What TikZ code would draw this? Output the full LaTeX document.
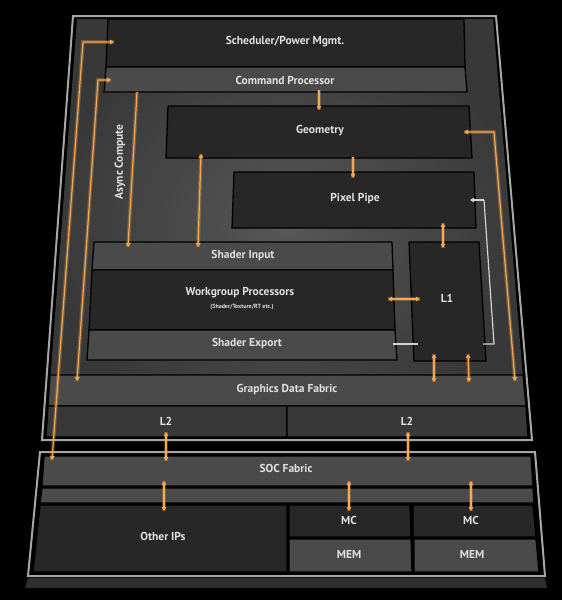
\documentclass[tikz,border=0pt]{standalone}
\usepackage{fontspec}
\setmainfont{PT Sans}
\usetikzlibrary{arrows.meta}
\definecolor{rim}{HTML}{A6A6A6}
\definecolor{bodyhi}{HTML}{575757}
\definecolor{bodylo}{HTML}{383838}
\definecolor{dark}{HTML}{272727}
\definecolor{mid}{HTML}{4A4A4A}
\definecolor{shadow}{HTML}{2E2E2E}
\definecolor{amber}{HTML}{F8A850}
\definecolor{wirew}{HTML}{D2D2D2}
\definecolor{label}{HTML}{E0E0E0}
\tikzset{
	ah/.tip={Triangle[length=4pt,width=4.5pt]},
	blk/.style={draw=black, line width=1.3pt, line join=round},
	lbl/.style={text=label, font=\bfseries\fontsize{11.5}{13}\selectfont},
	glow/.style={preaction={draw, amber, line width=3.8pt, opacity=0.28, arrows=-}},
	wire/.style={amber, line width=1.2pt, line join=round, glow, -ah},
	wires/.style={amber, line width=1.2pt, line join=round, glow, ah-ah},
	pale/.style={wirew, line width=1.2pt, line join=round}
}

\begin{document}
\begin{tikzpicture}[x=1pt, y=-1pt]
			%%%%% START %%%%%
			\fill[black] (0, 0) rectangle (562, 600);
			\useasboundingbox (0, 0) rectangle (562, 600);
			
			% graphics part
			\draw[rim, line width=2pt, fill=black] (73, 16) -- (496, 16) -- (532, 440) -- (42, 440) -- cycle;
			\shade[inner color=bodyhi, outer color=bodylo] (77, 19) -- (493, 19) -- (528, 437) -- (46, 437) -- cycle;
			
			\draw[blk, fill=dark] (108, 19) -- (464, 19) -- (465, 67) -- (106, 67) -- cycle;
			\draw[blk, fill=mid] (106, 67) -- (465, 67) -- (467, 92) -- (104, 92) -- cycle;
			\draw[blk, fill=dark] (168, 106) -- (469, 106) -- (472, 158) -- (166, 158) -- cycle;
			\draw[blk, fill=dark] (234, 172) -- (474, 172) -- (476, 228) -- (232, 228) -- cycle;
			
			\draw[blk, fill=mid] (94, 242) -- (392, 242) -- (393, 270) -- (92, 270) -- cycle;
			\draw[blk, fill=dark] (92, 270) -- (393, 270) -- (395, 330) -- (89, 330) -- cycle;
			\draw[blk, fill=mid] (89, 330) -- (395, 330) -- (397, 360) -- (87, 360) -- cycle;
			\draw[blk, fill=dark] (409, 242) -- (479, 242) -- (486, 361) -- (414, 361) -- cycle;
			
			\draw[blk, fill=mid] (50, 375) -- (523, 375) -- (526, 406) -- (48, 406) -- cycle;
			\draw[blk, fill=bodylo] (48, 406) -- (287, 406) -- (287, 437) -- (46, 437) -- cycle;
			\draw[blk, fill=bodylo] (287, 406) -- (526, 406) -- (528, 437) -- (287, 437) -- cycle;
			
			% soc part
			\fill[shadow] (28, 578) -- (545, 578) -- (547, 588) -- (25, 588) -- cycle;
			\draw[rim, line width=2pt, fill=black] (40, 452) -- (535, 452) -- (545, 576) -- (28, 576) -- cycle;
			
			\draw[blk, fill=mid] (44, 456) -- (531, 456) -- (533, 486) -- (42, 486) -- cycle;
			\draw[blk, fill=mid] (42, 488) -- (533, 488) -- (534, 503) -- (40, 503) -- cycle;
			\draw[blk, fill=dark] (40, 505) -- (287, 505) -- (287, 572) -- (33, 572) -- cycle;
			\draw[blk, fill=dark] (289, 505) -- (410, 505) -- (411, 537) -- (289, 537) -- cycle;
			\draw[blk, fill=dark] (413, 505) -- (533, 505) -- (536, 537) -- (413, 537) -- cycle;
			\draw[blk, fill=mid] (289, 539) -- (411, 539) -- (412, 572) -- (289, 572) -- cycle;
			\draw[blk, fill=mid] (414, 539) -- (536, 539) -- (539, 572) -- (414, 572) -- cycle;
			
			% labels
			\node[lbl] (sched) at (285, 42) {Scheduler/Power Mgmt.};
			\node[lbl] (cp) at (285, 80) {Command Processor};
			\node[lbl] (geo) at (320, 131) {Geometry};
			\node[lbl] (pix) at (355, 199) {Pixel Pipe};
			\node[lbl] (sin) at (243, 256) {Shader Input};
			\node[lbl] (wgp) at (240, 293) {Workgroup Processors};
			\node[text=label, font=\bfseries\fontsize{6}{7}\selectfont] (wgpsub) at (242, 307) {(Shader/Texture/RT etc.)};
			\node[lbl] (sex) at (247, 344) {Shader Export};
			\node[lbl] (lone) at (447, 298) {L1};
			\node[lbl] (gdf) at (287, 390) {Graphics Data Fabric};
			\node[lbl] (ltwoa) at (166, 421) {L2};
			\node[lbl] (ltwob) at (407, 421) {L2};
			\node[lbl] (socf) at (286, 468) {SOC Fabric};
			\node[lbl] (oip) at (163, 536) {Other IPs};
			\node[lbl] (mca) at (349, 520) {MC};
			\node[lbl] (mcb) at (471, 520) {MC};
			\node[lbl] (mema) at (349, 554) {MEM};
			\node[lbl] (memb) at (472, 554) {MEM};
			\node[lbl, rotate=90] (async) at (120, 162) {Async Compute};
			
			% connectors
			\draw[wires] (114, 42) -- (83, 42) -- (52, 460);
			\draw[wires] (111, 80) -- (98, 80) -- (77, 381);
			\draw[wire] (137, 92) -- (128, 247);
			\draw[wires] (201, 154) -- (198, 247);
			\draw[wire] (319, 90) -- (319, 110);
			\draw[wire] (353, 157) -- (353, 178);
			\draw[wires] (464, 132) -- (494, 132) -- (515, 381);
			
			\draw[pale, -ah] (484, 200) -- (470, 200);
			\draw[pale] (484, 200) -- (494, 344) -- (483, 344);
			\draw[pale] (393, 344) -- (418, 344);
			
			\draw[wires] (443, 223) -- (443, 248);
			\draw[wires] (388, 299) -- (420, 299);
			\draw[wires] (434, 354) -- (434, 382);
			\draw[wires] (468, 354) -- (469, 382);
			
			\draw[wires] (166, 432) -- (166, 461);
			\draw[wires] (408, 432) -- (408, 461);
			\draw[wires] (164, 481) -- (164, 511);
			\draw[wires] (349, 481) -- (349, 511);
			\draw[wires] (471, 481) -- (471, 511);
			%%%%% END %%%%%
\end{tikzpicture}
\end{document}
